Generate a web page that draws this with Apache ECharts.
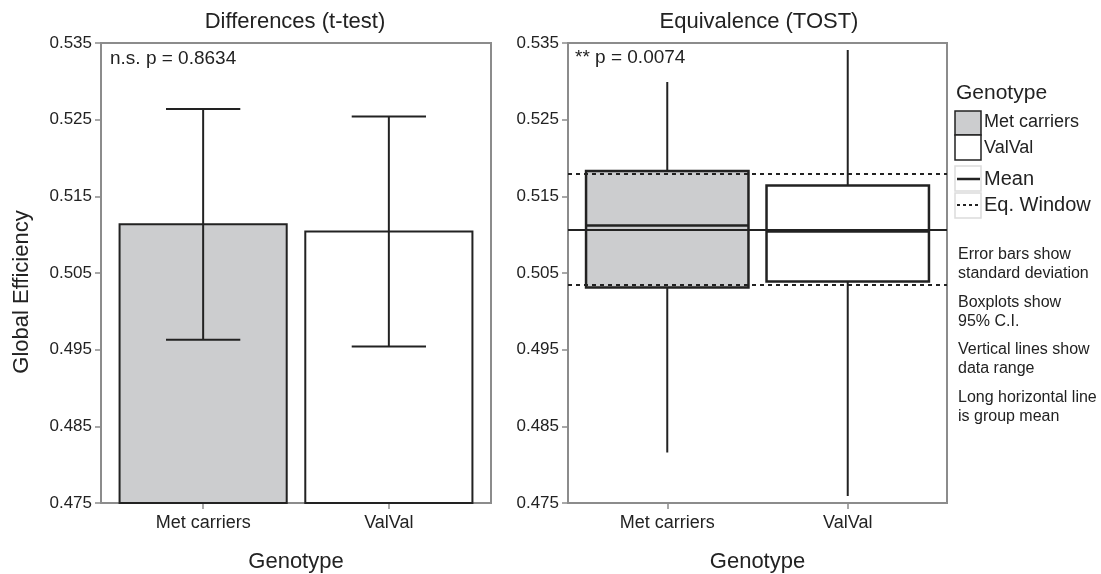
<!DOCTYPE html>
<html>
<head>
<meta charset="utf-8">
<script src="https://cdn.jsdelivr.net/npm/echarts@6/dist/echarts.min.js"></script>
<style>
	html, body { margin: 0; padding: 0; background: #fff; }
	#main { width: 1101px; height: 574px; }
</style>
</head>
<body>
<div id="main"></div>
<script>
var categories = ['Met carriers', 'ValVal'];
var barMeans = [0.51135, 0.5104];
var barSd = [0.01505, 0.0150];
var ciLow = [0.5031, 0.5039];
var ciHigh = [0.5183, 0.5164];
var boxMeans = [0.5112, 0.5104];
var rangeMin = [0.4816, 0.4759];
var rangeMax = [0.5299, 0.5341];
var grandMean = 0.5107;
var eqWindow = [0.5035, 0.5179];
var yTicks = [0.475, 0.485, 0.495, 0.505, 0.515, 0.525, 0.535];
var pLabels = ['n.s. p = 0.8634', '** p = 0.0074'];

var FONT = '"Liberation Sans", Arial, Helvetica, sans-serif';
var INK = '#222';
var FRAME = '#8c8c8c';
var fills = ['#cccdcf', '#ffffff'];
var Y_MIN = yTicks[0];
var Y_MAX = yTicks[yTicks.length - 1];

var chart = echarts.init(document.getElementById('main'));

function makeXAxis(gridIndex){
	return {
		type: 'value', gridIndex: gridIndex, min: -0.55, max: 1.55,
		name: 'Genotype', nameLocation: 'middle', nameGap: 48,
		nameTextStyle: {fontSize: 22, color: INK, fontFamily: FONT},
		axisLine: {show: false, onZero: false},
		splitLine: {show: false},
		axisTick: {show: true, length: 6, customValues: [0, 1], lineStyle: {color: FRAME, width: 1.5}},
		axisLabel: {
			customValues: [0, 1], margin: 11, fontSize: 18, color: INK, fontFamily: FONT,
			formatter: function(v){ return categories[Math.round(v)]; }
		}
	};
}

function makeYAxis(gridIndex){
	return {
		type: 'value', gridIndex: gridIndex, min: Y_MIN, max: Y_MAX,
		axisLine: {show: false, onZero: false},
		splitLine: {show: false},
		axisTick: {show: true, length: 6, customValues: yTicks, lineStyle: {color: FRAME, width: 1.5}},
		axisLabel: {
			customValues: yTicks, margin: 9, fontSize: 17, color: INK, fontFamily: FONT,
			formatter: function(v){ return v.toFixed(3); }
		}
	};
}

// bar with +/- sd error bar
function renderBar(params, api){
	var x = api.value(0), m = api.value(1), sd = api.value(2);
	var tl = api.coord([x - 0.45, m]);
	var br = api.coord([x + 0.45, Y_MIN]);
	var hi = api.coord([x, m + sd]);
	var lo = api.coord([x, m - sd]);
	var cl = api.coord([x - 0.2, m])[0];
	var cr = api.coord([x + 0.2, m])[0];
	var ls = {stroke: INK, lineWidth: 2};
	return {type: 'group', children: [
		{type: 'rect', shape: {x: tl[0], y: tl[1], width: br[0] - tl[0], height: br[1] - tl[1]},
			style: {fill: fills[params.dataIndex], stroke: INK, lineWidth: 2}},
		{type: 'line', shape: {x1: hi[0], y1: hi[1], x2: lo[0], y2: lo[1]}, style: ls},
		{type: 'line', shape: {x1: cl, y1: hi[1], x2: cr, y2: hi[1]}, style: ls},
		{type: 'line', shape: {x1: cl, y1: lo[1], x2: cr, y2: lo[1]}, style: ls}
	]};
}

// CI box, range line, group mean line
function renderBox(params, api){
	var x = api.value(0);
	var tl = api.coord([x - 0.45, api.value(2)]);
	var br = api.coord([x + 0.45, api.value(1)]);
	var mid = api.coord([x, api.value(3)]);
	var top = api.coord([x, api.value(5)]);
	var bot = api.coord([x, api.value(4)]);
	return {type: 'group', children: [
		{type: 'line', shape: {x1: top[0], y1: top[1], x2: bot[0], y2: bot[1]}, style: {stroke: INK, lineWidth: 2}},
		{type: 'rect', shape: {x: tl[0], y: tl[1], width: br[0] - tl[0], height: br[1] - tl[1]},
			style: {fill: fills[params.dataIndex], stroke: INK, lineWidth: 2.5}},
		{type: 'line', shape: {x1: tl[0], y1: mid[1], x2: br[0], y2: mid[1]}, style: {stroke: INK, lineWidth: 2.5}}
	]};
}

var barData = [];
var boxData = [];
for(var i = 0; i < categories.length; i++){
	barData.push([i, barMeans[i], barSd[i]]);
	boxData.push([i, ciLow[i], ciHigh[i], boxMeans[i], rangeMin[i], rangeMax[i]]);
}

var noteStyle = {fill: INK, fontSize: 16, fontFamily: FONT, lineHeight: 19};
var notes = [
	['Error bars show\nstandard deviation', 245],
	['Boxplots show\n95% C.I.', 293],
	['Vertical lines show\ndata range', 340],
	['Long horizontal line\nis group mean', 388]
];

var graphics = [
	{type: 'text', x: 22, y: 292, rotation: Math.PI / 2,
		style: {text: 'Global Efficiency', fill: INK, fontSize: 22, fontFamily: FONT, align: 'center', verticalAlign: 'middle'}},
	{type: 'text', x: 110, y: 59, style: {text: pLabels[0], fill: INK, fontSize: 19, fontFamily: FONT, verticalAlign: 'middle'}},
	{type: 'text', x: 575, y: 58, style: {text: pLabels[1], fill: INK, fontSize: 19, fontFamily: FONT, verticalAlign: 'middle'}},
	{type: 'text', x: 956, y: 93, style: {text: 'Genotype', fill: INK, fontSize: 21, fontFamily: FONT, verticalAlign: 'middle'}},
	{type: 'rect', shape: {x: 955, y: 111, width: 26, height: 24}, style: {fill: fills[0], stroke: INK, lineWidth: 1.5}},
	{type: 'rect', shape: {x: 955, y: 135, width: 26, height: 25}, style: {fill: fills[1], stroke: INK, lineWidth: 1.5}},
	{type: 'text', x: 984, y: 122, style: {text: categories[0], fill: INK, fontSize: 18, fontFamily: FONT, verticalAlign: 'middle'}},
	{type: 'text', x: 984, y: 148, style: {text: categories[1], fill: INK, fontSize: 18, fontFamily: FONT, verticalAlign: 'middle'}},
	{type: 'rect', shape: {x: 955, y: 166, width: 26, height: 25}, style: {fill: '#fff', stroke: '#dcdcdc', lineWidth: 1.5}},
	{type: 'line', shape: {x1: 957, y1: 179, x2: 980, y2: 179}, style: {stroke: INK, lineWidth: 2.5}},
	{type: 'rect', shape: {x: 955, y: 193, width: 26, height: 25}, style: {fill: '#fff', stroke: '#dcdcdc', lineWidth: 1.5}},
	{type: 'line', shape: {x1: 957, y1: 205, x2: 980, y2: 205}, style: {stroke: INK, lineWidth: 2, lineDash: [3, 3]}},
	{type: 'text', x: 984, y: 179, style: {text: 'Mean', fill: INK, fontSize: 20, fontFamily: FONT, verticalAlign: 'middle'}},
	{type: 'text', x: 984, y: 205, style: {text: 'Eq. Window', fill: INK, fontSize: 20, fontFamily: FONT, verticalAlign: 'middle'}}
];
for(var n = 0; n < notes.length; n++){
	graphics.push({type: 'text', x: 958, y: notes[n][1], style: echarts.util.extend({text: notes[n][0]}, noteStyle)});
}

var option = {
	animation: false,
	backgroundColor: '#fff',
	textStyle: {fontFamily: FONT},
	title: [
		{text: 'Differences (t-test)', left: 295, top: 11, textAlign: 'center', padding: 0,
			textStyle: {fontSize: 22, fontWeight: 'normal', color: INK, fontFamily: FONT}},
		{text: 'Equivalence (TOST)', left: 759, top: 11, textAlign: 'center', padding: 0,
			textStyle: {fontSize: 22, fontWeight: 'normal', color: INK, fontFamily: FONT}}
	],
	grid: [
		{left: 101, right: 610, top: 43, bottom: 71, show: true, borderColor: FRAME, borderWidth: 2,
			backgroundColor: 'transparent', outerBoundsMode: 'none'},
		{left: 568, right: 154, top: 43, bottom: 71, show: true, borderColor: FRAME, borderWidth: 2,
			backgroundColor: 'transparent', outerBoundsMode: 'none'}
	],
	xAxis: [makeXAxis(0), makeXAxis(1)],
	yAxis: [makeYAxis(0), makeYAxis(1)],
	series: [
		{type: 'custom', name: 'sd', xAxisIndex: 0, yAxisIndex: 0, renderItem: renderBar, data: barData,
			encode: {x: 0, y: 1}, silent: true},
		{type: 'custom', name: 'ci', xAxisIndex: 1, yAxisIndex: 1, renderItem: renderBox, data: boxData,
			encode: {x: 0, y: [1, 2, 3, 4, 5]}, silent: true, z: 2,
			markLine: {
				silent: true, symbol: ['none', 'none'], label: {show: false}, z: 5, precision: 5,
				data: [
					{yAxis: grandMean, lineStyle: {type: 'solid', color: INK, width: 2}},
					{yAxis: eqWindow[0], lineStyle: {type: [4, 4], color: INK, width: 2}},
					{yAxis: eqWindow[1], lineStyle: {type: [4, 4], color: INK, width: 2}}
				]
			}}
	],
	graphic: graphics
};

chart.setOption(option);
</script>
</body>
</html>
